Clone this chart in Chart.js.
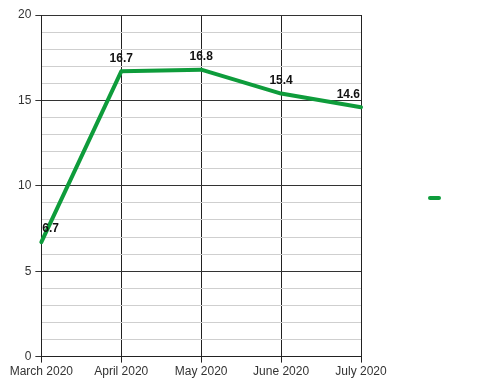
<!DOCTYPE html>
<html>
<head>
<meta charset="utf-8">
<script src="https://cdn.jsdelivr.net/npm/chart.js@4"></script>
<style>
  html, body { margin: 0; padding: 0; background: #fff; }
  #wrap { width: 500px; height: 385px; }
</style>
</head>
<body>
<div id="wrap"><canvas id="c" width="500" height="385"></canvas></div>
<script>
const categories = ['March 2020', 'April 2020', 'May 2020', 'June 2020', 'July 2020'];
const values = [6.7, 16.7, 16.8, 15.4, 14.6];
const yTickLabels = ['0', '5', '10', '15', '20'];
const seriesName = '';

const GREEN = '#0e9c3b';

const labelPlugin = {
  id: 'pointLabels',
  afterDatasetsDraw(chart) {
    const ctx = chart.ctx;
    const meta = chart.getDatasetMeta(0);
    const area = chart.chartArea;
    ctx.save();
    ctx.font = 'bold 12px "Liberation Sans", Arial, sans-serif';
    ctx.fillStyle = '#111';
    ctx.textBaseline = 'middle';
    ctx.textAlign = 'center';
    meta.data.forEach((pt, i) => {
      const txt = String(values[i]);
      const w = ctx.measureText(txt).width;
      let x = pt.x;
      x = Math.max(area.left + w / 2 + 1, Math.min(area.right - w / 2 - 1, x));
      ctx.fillText(txt, x, pt.y - 13);
    });
    ctx.restore();
  }
};

new Chart(document.getElementById('c'), {
  type: 'line',
  data: {
    labels: categories,
    datasets: [{
      label: seriesName,
      data: values,
      borderColor: GREEN,
      backgroundColor: GREEN,
      borderWidth: 4,
      pointRadius: 0,
      tension: 0,
      borderCapStyle: 'round',
      borderJoinStyle: 'round',
      clip: false
    }]
  },
  options: {
    responsive: false,
    animation: false,
    devicePixelRatio: 1,
    layout: { padding: { left: 14, right: 43, top: 15, bottom: 4 } },
    plugins: {
      tooltip: { enabled: false },
      legend: {
        position: 'right',
        labels: {
          boxWidth: 13,
          boxHeight: 4,
          padding: 67,
          font: { size: 12 },
          generateLabels(chart) {
            return [{
              text: '',
              fillStyle: GREEN,
              strokeStyle: GREEN,
              lineWidth: 0,
              hidden: false,
              datasetIndex: 0,
              borderRadius: 2
            }];
          },
          useBorderRadius: true,
          borderRadius: 2
        }
      }
    },
    scales: {
      x: {
        offset: false,
        grid: {
          color: '#222',
          lineWidth: 1,
          tickLength: 6,
          drawOnChartArea: true
        },
        border: { color: '#222', width: 1 },
        ticks: {
          color: '#333',
          font: { family: '"Liberation Sans", Arial, sans-serif', size: 12 },
          padding: 2,
          maxRotation: 0,
          autoSkip: false
        }
      },
      y: {
        min: 0,
        max: 20,
        grid: {
          color: (c) => (c.tick && c.tick.value % 5 === 0) ? '#333' : '#cfcfcf',
          tickColor: (c) => (c.tick && c.tick.value % 5 === 0) ? '#333' : 'rgba(0,0,0,0)',
          lineWidth: 1,
          tickLength: 6
        },
        border: { color: '#222', width: 1 },
        ticks: {
          stepSize: 1,
          color: '#333',
          font: { family: '"Liberation Sans", Arial, sans-serif', size: 12 },
          padding: 4,
          autoSkip: false,
          callback: (v) => (v % 5 === 0) ? yTickLabels[v / 5] : ''
        }
      }
    }
  },
  plugins: [labelPlugin]
});
</script>
</body>
</html>
